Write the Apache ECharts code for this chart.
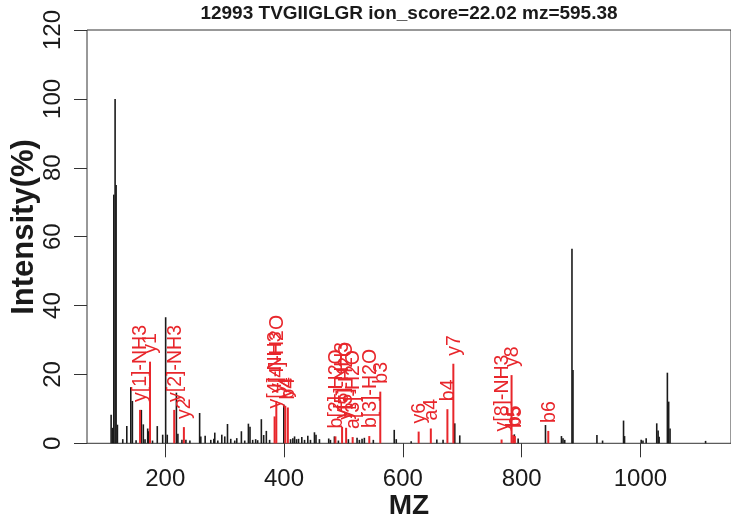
<!DOCTYPE html>
<html><head><meta charset="utf-8">
<script src="https://cdn.jsdelivr.net/npm/echarts@6/dist/echarts.min.js"></script>
<style>html,body{margin:0;padding:0;background:#fff}#c{width:731px;height:527px}</style>
</head><body><div id="c"></div>
<script>
// ---- data ----
const titleText = '12993 TVGIIGLGR ion_score=22.02 mz=595.38';
const xTicks = [200, 400, 600, 800, 1000];
const yTicks = [0, 20, 40, 60, 80, 100, 120];

const blackMz = [108.9,111.4,113.4,115.6,117.3,119.5,128.5,135.3,142.0,144.7,150.9,159.8,163.1,166.0,170.5,172.2,178.6,186.6,195.7,200.7,203.4,218.8,221.3,228.1,234.8,241.5,257.9,259.9,267.2,276.7,281.8,283.4,288.5,295.2,300.2,304.8,310.3,317.0,320.4,328.2,333.8,340.0,342.7,347.2,352.2,355.6,361.8,365.7,370.2,375.7,399.6,411.0,414.8,417.7,421.0,424.4,429.9,434.5,440.0,444.5,451.2,453.8,459.6,475.2,478.1,484.8,491.5,508.3,522.9,526.8,531.3,535.2,550.3,585.5,588.9,614.0,657.2,667.7,687.4,695.8,787.7,794.1,840.1,867.0,869.6,872.5,884.7,886.4,926.7,936.2,971.5,973.2,1001.2,1004.2,1009.6,1027.4,1029.7,1031.4,1045.3,1047.5,1049.8,1109.6];
const blackInt = [8.3,4.5,72.2,100,75,5.4,1.2,5.0,16.3,12.3,0.9,9.7,5.5,1.2,4.3,3.5,0.8,5.0,2.5,36.6,2.5,14.7,2.8,1.0,1.0,0.8,8.8,2.0,2.2,1.0,1.3,3.1,0.8,2.5,2.0,5.6,1.3,0.8,1.5,3.5,0.8,5.7,4.8,1.0,1.2,0.9,7.0,2.4,3.6,1.0,11.3,1.2,1.5,2.0,1.2,1.3,1.8,1.0,2.2,1.0,3.2,2.5,1.2,1.4,1.0,2.0,0.8,1.2,1.6,1.0,1.3,1.6,1.0,3.9,1.2,0.6,1.1,1.0,5.8,2.3,2.6,1.4,5.3,2.1,1.5,1.0,56.5,21.3,2.4,0.8,6.6,2.1,1.0,0.8,1.5,5.8,3.7,1.9,20.5,12.1,4.3,0.7];

const redMz = [157.6,174.4,215.1,231.4,384.1,387.0,402.1,406.4,486.5,497.7,504.5,515.5,543.5,562.0,626.6,647.1,675.0,685.0,766.2,783.0,785.7,788.6,844.8];
const redInt = [9.7,23.7,9.7,4.7,7.8,12.3,10.9,10.4,2.0,4.8,4.5,1.8,2.1,15.0,3.4,4.3,9.9,23.1,1.1,19.8,2.4,2.1,3.6];
const redLabels = ['y[1]-NH3','y1','y[2]-NH3','y2','y[4]-NH3','y[4]-H2O','y4','b4','b[2]-H2O','y[5]-NH3','y[5]-H2O','a[3]-H2O','b[3]-H2O','b3','y6','a4','b4','y7','y[8]-NH3','y8','b5','b5','b6'];

// ---- chart ----
const RED = '#e8262b';
const INK = '#1a1a1a';
const FONT = '"Liberation Sans", Arial, sans-serif';

const blackData = blackMz.map((m, i) => [m, blackInt[i]]);
const redData = redMz.map((m, i) => [m, redInt[i], redLabels[i]]);

function peakRenderer(color, width, withLabel) {
  return function (params, api) {
    const x = api.value(0), y = api.value(1);
    const p0 = api.coord([x, 0]);
    const p1 = api.coord([x, y]);
    const children = [{
      type: 'line',
      shape: { x1: p0[0], y1: p0[1], x2: p1[0], y2: p1[1] },
      style: { stroke: color, lineWidth: width }
    }];
    if (withLabel) {
      children.push({
        type: 'text',
        x: p1[0] + 1, y: p1[1] - 8,
        rotation: Math.PI / 2,
        style: { text: api.value(2), fill: RED, font: '19.5px ' + FONT, align: 'left', verticalAlign: 'middle' }
      });
    }
    return { type: 'group', children };
  };
}

const chart = echarts.init(document.getElementById('c'), null, { renderer: 'canvas' });
chart.setOption({
  animation: false,
  backgroundColor: '#fff',
  grid: { left: 87, top: 30, right: -2, bottom: 83.7, show: true, borderColor: '#333', borderWidth: 1, backgroundColor: 'transparent' },
  xAxis: {
    type: 'value', min: 68.3, max: 1152.4,
    splitLine: { show: false },
    axisLine: { show: false },
    axisTick: { show: true, customValues: xTicks, length: 14, lineStyle: { color: '#333', width: 1 } },
    axisLabel: { customValues: xTicks, fontSize: 24, color: INK, margin: 24, fontFamily: FONT, formatter: v => String(v) }
  },
  yAxis: {
    type: 'value', min: 0, max: 120, interval: 20,
    splitLine: { show: false },
    axisLine: { show: false },
    axisTick: { show: true, length: 13, lineStyle: { color: '#333', width: 1 } },
    axisLabel: { rotate: 90, fontSize: 24, color: INK, margin: 22, fontFamily: FONT, showMinLabel: true, showMaxLabel: true, formatter: v => String(v) }
  },
  graphic: [
    { type: 'text', x: 409, y: 14, style: { text: titleText, font: 'bold 19px ' + FONT, fill: INK, align: 'center', verticalAlign: 'middle' } },
    { type: 'text', x: 409, y: 506, style: { text: 'MZ', font: 'bold 28px ' + FONT, fill: INK, align: 'center', verticalAlign: 'middle' } },
    { type: 'text', x: 24, y: 227, rotation: Math.PI / 2, style: { text: 'Intensity(%)', font: 'bold 31px ' + FONT, fill: INK, align: 'center', verticalAlign: 'middle' } }
  ],
  series: [
    { type: 'custom', name: 'peaks', data: blackData, renderItem: peakRenderer(INK, 1.6, false), encode: { x: 0, y: 1 }, clip: false, silent: true },
    { type: 'custom', name: 'matched', data: redData, renderItem: peakRenderer(RED, 2, true), encode: { x: 0, y: 1 }, clip: false, silent: true, z: 3 }
  ]
});
</script></body></html>
